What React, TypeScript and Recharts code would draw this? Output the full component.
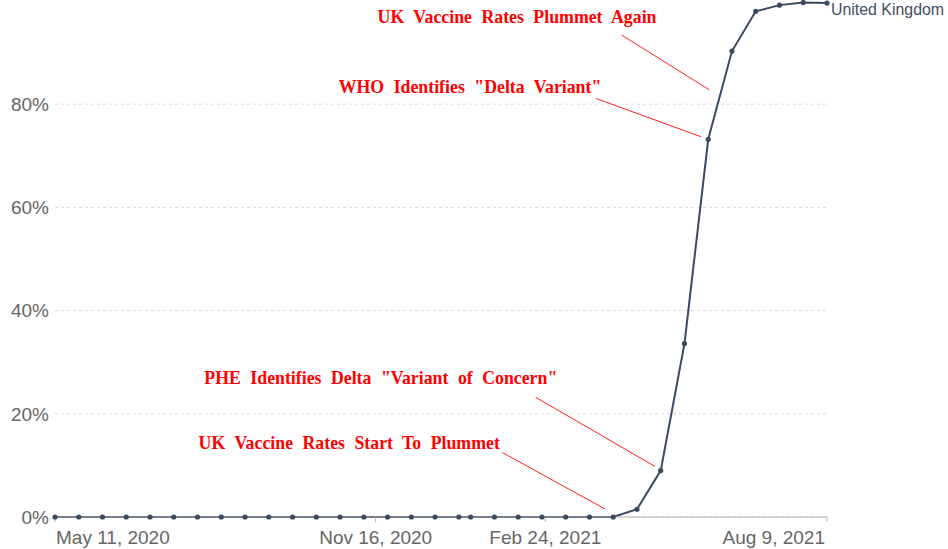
import React from "react";
import {
  LineChart,
  Line,
  XAxis,
  YAxis,
  CartesianGrid,
  ReferenceLine,
  ReferenceDot,
} from "recharts";

// ---- data ----
const seriesName = "United Kingdom";

const dates = [
  "2020-05-11", "2020-05-25", "2020-06-08", "2020-06-22", "2020-07-06", "2020-07-20",
  "2020-08-03", "2020-08-17", "2020-08-31", "2020-09-14", "2020-09-28", "2020-10-12",
  "2020-10-26", "2020-11-09", "2020-11-23", "2020-12-07", "2020-12-21", "2021-01-04",
  "2021-01-11", "2021-01-25", "2021-02-08", "2021-02-22", "2021-03-08", "2021-03-22",
  "2021-04-05", "2021-04-19", "2021-05-03", "2021-05-17", "2021-05-31", "2021-06-14",
  "2021-06-28", "2021-07-12", "2021-07-26", "2021-08-09",
];

const ukValues = [
  0, 0, 0, 0, 0, 0,
  0, 0, 0, 0, 0, 0,
  0, 0, 0, 0, 0, 0,
  0, 0, 0, 0, 0, 0,
  0, 1.5, 9.0, 33.6, 73.2, 90.3,
  98.0, 99.2, 99.7, 99.6,
];

const xTickDates = ["2020-05-11", "2020-11-16", "2021-02-24", "2021-08-09"];
const xTickLabels = ["May 11, 2020", "Nov 16, 2020", "Feb 24, 2021", "Aug 9, 2021"];
const yTicks = [0, 20, 40, 60, 80];

// annotations (data units: days since first date, percent)
const annotationTexts = [
  "UK Vaccine Rates Plummet Again",
  'WHO Identifies "Delta Variant"',
  'PHE Identifies Delta "Variant of Concern"',
  "UK Vaccine Rates Start To Plummet",
];
const annotationTextDay = [272.3, 244.6, 192.0, 173.4];
const annotationTextPct = [97.05, 83.4, 27.06, 14.49];
const arrowFromDay = [334.0, 318.9, 283.3, 263.6];
const arrowFromPct = [93.4, 81.1, 23.2, 12.5];
const arrowToDay = [385.6, 380.7, 353.6, 324.2];
const arrowToPct = [82.8, 73.7, 9.8, 1.55];

// ---- helpers ----
const START = Date.parse(dates[0] + "T00:00:00Z");
const dayOf = (s: string) => (Date.parse(s + "T00:00:00Z") - START) / 86400000;

const data = dates.map((d, i) => ({ day: dayOf(d), value: ukValues[i] }));
const xTicks = xTickDates.map(dayOf);
const xMax = dayOf(xTickDates[xTickDates.length - 1]);

const SANS = "'Liberation Sans', Arial, Helvetica, sans-serif";
const SERIF = "'Liberation Serif', 'Times New Roman', serif";
const LINE_COLOR = "#3b4a63";

const XTick = (props: any) => {
  const { x, y, payload, index } = props;
  const i = xTicks.indexOf(payload.value);
  const label = i >= 0 ? xTickLabels[i] : "";
  const last = xTicks.length - 1;
  const anchor = index === 0 ? "start" : index === last ? "end" : "middle";
  const dx = index === 0 ? 1 : index === last ? -2 : 0;
  return (
    <text x={x + dx} y={y} dy={19.5} textAnchor={anchor} fill="#666" fontSize={19} fontFamily={SANS}>
      {label}
    </text>
  );
};

const AnnotationLabel = (props: any) => {
  const { viewBox, caption } = props;
  if (!viewBox) return null;
  const cx = viewBox.x + (viewBox.width || 0) / 2;
  const cy = viewBox.y + (viewBox.height || 0) / 2;
  return (
    <text
      transform={`translate(${cx},${cy}) scale(1,1.1)`}
      x={0}
      y={0}
      dy={5.9}
      textAnchor="middle"
      fill="#ff0000"
      fontFamily={SERIF}
      fontWeight="bold"
      fontSize={17.8}
      wordSpacing={5}
    >
      {caption}
    </text>
  );
};

const EndLabel = (props: any) => {
  const { x, y, index } = props;
  if (index !== data.length - 1) return null;
  return (
    <text x={x + 4} y={y + 12} fill="#424f63" fontSize={15.9} fontFamily={SANS}>
      {seriesName}
    </text>
  );
};

export default function App() {
  return (
    <div style={{ position: "absolute", left: 0, top: 0, width: 948, height: 549, background: "#fff" }}>
      <LineChart width={948} height={549} data={data} margin={{ top: 1, right: 121, bottom: 0, left: 0 }}>
        <CartesianGrid
          horizontal
          vertical={false}
          horizontalValues={yTicks}
          stroke="#dcdcdc"
          strokeDasharray="3 3"
        />
        <XAxis
          type="number"
          dataKey="day"
          domain={[0, xMax]}
          ticks={xTicks}
          interval={0}
          height={32}
          axisLine={{ stroke: "#b3b3b3" }}
          tickLine={{ stroke: "#b3b3b3" }}
          tickSize={5}
          tick={<XTick />}
        />
        <YAxis
          width={55}
          domain={[0, 100]}
          ticks={yTicks}
          interval={0}
          axisLine={false}
          tickLine={false}
          tickSize={4}
          tickMargin={2}
          tick={{ fill: "#666", fontSize: 19, fontFamily: SANS }}
          tickFormatter={(v: number) => `${v}%`}
        />
        {annotationTexts.map((t, i) => (
          <ReferenceLine
            key={"l" + i}
            segment={[
              { x: arrowFromDay[i], y: arrowFromPct[i] },
              { x: arrowToDay[i], y: arrowToPct[i] },
            ]}
            stroke="#ff2020"
            strokeWidth={1}
          />
        ))}
        {annotationTexts.map((t, i) => (
          <ReferenceDot
            key={"t" + i}
            x={annotationTextDay[i]}
            y={annotationTextPct[i]}
            r={0}
            fill="none"
            stroke="none"
            label={<AnnotationLabel caption={t} />}
          />
        ))}
        <Line
          type="linear"
          dataKey="value"
          stroke={LINE_COLOR}
          strokeWidth={2}
          dot={{ r: 2.6, fill: LINE_COLOR, stroke: LINE_COLOR, strokeWidth: 0 }}
          activeDot={false}
          isAnimationActive={false}
          label={<EndLabel />}
        />
      </LineChart>
    </div>
  );
}
